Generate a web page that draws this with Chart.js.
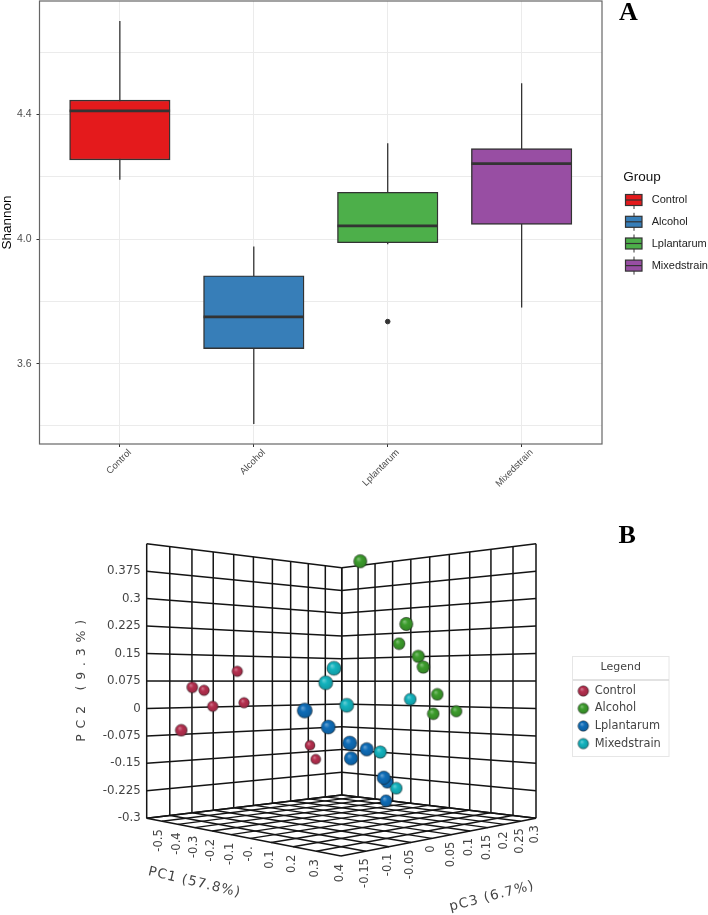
<!DOCTYPE html>
<html>
<head>
<meta charset="utf-8">
<title>Shannon diversity and PCoA</title>
<style>
html,body{margin:0;padding:0;background:#fff;width:708px;height:915px;overflow:hidden}
canvas{position:absolute;left:0}
#a{top:0}
#b{top:500px}
</style>
<script src="https://cdn.jsdelivr.net/npm/chart.js@4/dist/chart.umd.min.js"></script>
</head>
<body>
<canvas id="a" width="708" height="500"></canvas>
<canvas id="b" width="708" height="415"></canvas>
<script>
// ---------- Panel A data ----------
const categories = ['Control', 'Alcohol', 'Lplantarum', 'Mixedstrain'];
const whiskerLow = [4.19, 3.406, 3.983, 3.78];
const quartile1 = [4.254, 3.648, 3.988, 4.047];
const medians = [4.411, 3.75, 4.042, 4.242];
const quartile3 = [4.446, 3.882, 4.15, 4.29];
const whiskerHigh = [4.70, 3.976, 4.307, 4.50];
const outlierGroup = [2];
const outlierValue = [3.735];
const shannonTicks = [3.4, 3.6, 3.8, 4.0, 4.2, 4.4, 4.6];
const shannonLabelled = [3.6, 4.0, 4.4];

// ---------- Panel B data: view position, PC2, nearness to the viewer ----------
const controlView = [-.5346, -.7657, -.7056, -.6609, -.5001, -.8222, -.1611, -.1318];
const controlPC2 = [.1015, .0578, .0496, .0059, .0157, -.0597, -.1007, -.1389];
const controlNear = [.4, .45, .4, .4, .4, .55, .33, .33];
const alcoholView = [.0974, .3337, .2962, .3953, .4210, .4929, .5905, .4724];
const alcoholPC2 = [.4019, .2307, .1769, .1424, .1132, .0386, -.0078, -.0144];
const alcoholNear = [.7, .7, .55, .62, .62, .55, .5, .55];
const lplantarumView = [-.1883, -.0670, .0429, .0496, .1302, .2361, .2176, .2294];
const lplantarumPC2 = [-.0056, -.0507, -.0944, -.1362, -.1116, -.2017, -.1892, -.2520];
const lplantarumNear = [.9, .8, .8, .72, .72, .55, .72, .55];
const mixedstrainView = [-.0378, -.0804, .0275, .3542, .2001, .2823];
const mixedstrainPC2 = [.1097, .0703, .0086, .0250, -.1190, -.2181];
const mixedstrainNear = [.8, .8, .8, .55, .62, .55];
const pc2Ticks = [.375, .3, .225, .15, .075, 0, -.075, -.15, -.225, -.3];
const pc1Ticks = ['-0.5', '-0.4', '-0.3', '-0.2', '-0.1', '-0.', '0.1', '0.2', '0.3', '0.4'];
const pc3Ticks = ['-0.15', '-0.1', '-0.05', '0', '0.05', '0.1', '0.15', '0.2', '0.25', '0.3'];

// ---------- Styles ----------
const boxColors = ['#e41a1c', '#377eb8', '#4daf4a', '#984ea3'];
const ballColors = ['#b5304f', '#3c9c2c', '#0f6db8', '#13b3be'];
const SANS = '"Liberation Sans", Arial, sans-serif';
const DJ = '"DejaVu Sans", sans-serif';
const INK = '#333333';

// Box corners of the 3D frame in (view, PC2) units
const frame = {
  leftTop: [-1, .45], cornerTop: [.002, .3844], rightTop: [1, .45],
  leftBase: [-1, -.3], cornerBase: [.002, -.2364], rightBase: [1, -.3], front: [-.002, -.403]
};
const DIVS = 10;

function quadMap(p0, p1, p2, p3) {
  const dx1 = p1[0]-p2[0], dx2 = p3[0]-p2[0], sx = p0[0]-p1[0]+p2[0]-p3[0];
  const dy1 = p1[1]-p2[1], dy2 = p3[1]-p2[1], sy = p0[1]-p1[1]+p2[1]-p3[1];
  const den = dx1*dy2-dx2*dy1;
  const g = (sx*dy2-dx2*sy)/den, h = (dx1*sy-sx*dy1)/den;
  const a = p1[0]-p0[0]+g*p1[0], b = p3[0]-p0[0]+h*p3[0], c = p0[0];
  const d = p1[1]-p0[1]+g*p1[1], e = p3[1]-p0[1]+h*p3[1], f = p0[1];
  return (s, t) => {
    const w = g*s+h*t+1;
    return {x: (a*s+b*t+c)/w, y: (d*s+e*t+f)/w};
  };
}
const leftWall = quadMap(frame.leftTop, frame.cornerTop, frame.cornerBase, frame.leftBase);
const rightWall = quadMap(frame.cornerTop, frame.rightTop, frame.rightBase, frame.cornerBase);
const floorMap = quadMap(frame.leftBase, frame.cornerBase, frame.rightBase, frame.front);

function gridDatasets(map, width) {
  const out = [];
  for (let k = 0; k <= DIVS; k++) {
    const q = k / DIVS;
    for (const data of [[map(q, 0), map(q, 1)], [map(0, q), map(1, q)]]) {
      out.push({type: 'scatter', data, showLine: true, pointRadius: 0, borderColor: '#141414',
        borderWidth: width, clip: false, order: 10, fill: false});
    }
  }
  return out;
}

// ---------- Sphere sprites ----------
const sprites = {};
function shade(hex, f) {
  const n = parseInt(hex.slice(1), 16);
  const ch = [n >> 16 & 255, n >> 8 & 255, n & 255].map(v =>
    Math.round(f >= 0 ? v + (255 - v) * f : v * (1 + f)));
  return `rgb(${ch[0]},${ch[1]},${ch[2]})`;
}
function ball(color, r) {
  const key = color + r.toFixed(1);
  if (sprites[key]) return sprites[key];
  const half = Math.ceil(r) + 1;
  const c = document.createElement('canvas');
  c.width = c.height = half * 2;
  const g = c.getContext('2d');
  const grad = g.createRadialGradient(half - r*.3, half - r*.38, r*.05, half, half, r*1.02);
  grad.addColorStop(0, shade(color, .35));
  grad.addColorStop(.38, color);
  grad.addColorStop(.85, shade(color, -.12));
  grad.addColorStop(1, shade(color, -.45));
  g.fillStyle = grad;
  g.beginPath();
  g.arc(half, half, r, 0, Math.PI*2);
  g.fill();
  g.strokeStyle = 'rgba(30,30,30,.5)';
  g.lineWidth = .8;
  g.stroke();
  return sprites[key] = c;
}
function ballDataset(label, view, pc2, near, color) {
  return {
    type: 'scatter', label,
    data: view.map((x, i) => ({x, y: pc2[i]})),
    pointStyle: ctx => ball(color, 3.5 + near[ctx.dataIndex] * 4.5),
    pointRadius: ctx => 3.5 + near[ctx.dataIndex] * 4.5,
    clip: false, order: 1
  };
}

function rotatedText(ctx, text, x, y, angle, font, color, align, spacing) {
  ctx.save();
  ctx.translate(x, y);
  ctx.rotate(angle);
  ctx.font = font;
  ctx.fillStyle = color;
  ctx.textAlign = align;
  ctx.textBaseline = 'middle';
  if (spacing) ctx.letterSpacing = spacing + 'px';
  ctx.fillText(text, 0, 0);
  ctx.restore();
}

// ---------- Panel A ----------
const noPad = s => { s.paddingTop = s.paddingBottom = s.paddingLeft = s.paddingRight = 0; };
const lineSet = (pts, width, order) => ({
  type: 'scatter', data: pts, showLine: true, pointRadius: 0,
  borderColor: INK, borderWidth: width, order, clip: false
});
const panelA = {
  id: 'panelA',
  afterDatasetsDraw(chart) {
    const {ctx, chartArea: a} = chart;
    ctx.save();
    ctx.strokeStyle = '#666';
    ctx.lineWidth = 1.2;
    ctx.strokeRect(a.left, a.top, a.right - a.left, a.bottom - a.top);
    ctx.restore();
  },
  afterDraw(chart) {
    const ctx = chart.ctx;
    ctx.save();
    ctx.textBaseline = 'alphabetic';
    ctx.textAlign = 'left';
    ctx.fillStyle = '#000';
    ctx.font = 'bold 26px "Liberation Serif", serif';
    ctx.fillText('A', 619, 20);
    ctx.font = '13.5px ' + SANS;
    ctx.fillStyle = '#111';
    ctx.fillText('Group', 623.3, 181);
    const rows = [200, 221.8, 243.5, 265.6];
    categories.forEach((name, i) => {
      const y = rows[i];
      ctx.strokeStyle = INK;
      ctx.lineWidth = 1;
      ctx.beginPath(); ctx.moveTo(634, y - 9); ctx.lineTo(634, y + 9); ctx.stroke();
      ctx.fillStyle = boxColors[i];
      ctx.fillRect(625.5, y - 5.5, 16.5, 11);
      ctx.lineWidth = 1.2;
      ctx.strokeRect(625.5, y - 5.5, 16.5, 11);
      ctx.beginPath(); ctx.moveTo(625.5, y); ctx.lineTo(642, y); ctx.stroke();
      ctx.fillStyle = '#222';
      ctx.font = '11px ' + SANS;
      ctx.textBaseline = 'middle';
      ctx.fillText(name, 651.7, y);
      ctx.textBaseline = 'alphabetic';
    });
    ctx.restore();
  }
};
new Chart(document.getElementById('a'), {
  type: 'bar',
  data: {
    datasets: [
      ...categories.map((_, i) => lineSet([{x: i, y: whiskerLow[i]}, {x: i, y: whiskerHigh[i]}], 1.3, 4)),
      {type: 'bar', data: categories.map((_, i) => ({x: i, y: [quartile1[i], quartile3[i]]})),
        backgroundColor: boxColors, borderColor: INK, borderWidth: 1.4, borderSkipped: false,
        barThickness: 100.5, order: 3},
      ...categories.map((_, i) => lineSet([{x: i - .375, y: medians[i]}, {x: i + .375, y: medians[i]}], 2.8, 2)),
      {type: 'scatter', data: outlierGroup.map((x, i) => ({x, y: outlierValue[i]})),
        backgroundColor: INK, borderColor: INK, pointRadius: 2.3, order: 1}
    ]
  },
  options: {
    responsive: false, animation: false, devicePixelRatio: 1,
    layout: {autoPadding: false, padding: {top: 1, right: 106, left: 0, bottom: 0}},
    plugins: {legend: {display: false}, tooltip: {enabled: false}},
    scales: {
      x: {
        type: 'linear', min: -.6, max: 3.6, offset: false,
        afterBuildTicks: s => { s.ticks = categories.map((_, i) => ({value: i})); },
        afterFit: s => { s.height = 56; noPad(s); },
        grid: {offset: false, color: '#ebebeb', lineWidth: 1, tickLength: 3, tickColor: INK, drawOnChartArea: true},
        border: {display: false},
        ticks: {
          autoSkip: false, minRotation: 45, maxRotation: 45, padding: 0, labelOffset: 10,
          color: '#4d4d4d', font: {family: SANS, size: 9.5},
          callback: v => categories[v]
        }
      },
      y: {
        type: 'linear', min: 3.342, max: 4.764,
        afterBuildTicks: s => { s.ticks = shannonTicks.map(value => ({value})); },
        afterFit: s => { s.width = 39.5; noPad(s); },
        title: {display: true, text: 'Shannon', color: '#000', font: {family: SANS, size: 13.5, lineHeight: 1}, padding: {top: 1, bottom: 0}},
        grid: {
          color: '#ebebeb', lineWidth: 1, tickLength: 3,
          tickColor: c => shannonLabelled.includes(c.tick && c.tick.value) ? INK : 'rgba(0,0,0,0)'
        },
        border: {display: false},
        ticks: {
          padding: 5, color: '#4d4d4d', font: {family: SANS, size: 10.5},
          callback: v => shannonLabelled.includes(v) ? v.toFixed(1) : ''
        }
      }
    }
  },
  plugins: [panelA]
});

// ---------- Panel B ----------
const panelB = {
  id: 'panelB',
  afterDraw(chart) {
    const {ctx, scales: {x: sx, y: sy}} = chart;
    const TICK = '11.5px ' + DJ, TEXT = '#444';
    pc1Ticks.forEach((t, i) => {
      const p = floorMap(0, (i + 1) / DIVS);
      rotatedText(ctx, t, sx.getPixelForValue(p.x) - 1 + (i === 0 ? -2 : 0), sy.getPixelForValue(p.y) + 8, -Math.PI/2, TICK, TEXT, 'right');
    });
    pc3Ticks.forEach((t, i) => {
      const p = floorMap((i + 1) / DIVS, 1);
      rotatedText(ctx, t, sx.getPixelForValue(p.x) - 1, sy.getPixelForValue(p.y) + 7, -Math.PI/2, TICK, TEXT, 'right');
    });
    rotatedText(ctx, 'PC2 (9.3%)', 81.5, 178, -Math.PI/2, '12.5px ' + DJ, TEXT, 'center', 5.8);
    rotatedText(ctx, 'PC1 (57.8%)', 194.5, 382.5, .232, '13.5px ' + DJ, TEXT, 'center', 1);
    rotatedText(ctx, 'pC3 (6.7%)', 492, 396.5, -.253, '13.5px ' + DJ, TEXT, 'center', 1.2);

    ctx.save();
    ctx.fillStyle = '#000';
    ctx.textAlign = 'left';
    ctx.textBaseline = 'alphabetic';
    ctx.font = 'bold 26px "Liberation Serif", serif';
    ctx.fillText('B', 618.5, 43);
    // legend box
    ctx.strokeStyle = '#e6e6e6';
    ctx.lineWidth = 1;
    ctx.strokeRect(572.5, 156.5, 96.5, 100);
    ctx.strokeStyle = '#d8d8d8';
    ctx.lineWidth = 1.5;
    ctx.beginPath(); ctx.moveTo(573, 180); ctx.lineTo(669, 180); ctx.stroke();
    ctx.fillStyle = TEXT;
    ctx.textBaseline = 'middle';
    ctx.textAlign = 'center';
    ctx.font = '11px ' + DJ;
    ctx.fillText('Legend', 620.7, 167);
    ctx.textAlign = 'left';
    ctx.font = '11.4px ' + DJ;
    const rows = [191, 208.4, 226, 243.6];
    categories.forEach((name, i) => {
      const s = ball(ballColors[i], 5.3);
      ctx.drawImage(s, 583.3 - s.width/2, rows[i] - s.height/2);
      ctx.fillStyle = TEXT;
      ctx.fillText(name, 594.7, rows[i]);
    });
    ctx.restore();
  }
};
new Chart(document.getElementById('b'), {
  type: 'scatter',
  data: {
    datasets: [
      ...gridDatasets(leftWall, 1.5),
      ...gridDatasets(rightWall, 1.5),
      ...gridDatasets(floorMap, 1.4),
      ballDataset(categories[3], mixedstrainView, mixedstrainPC2, mixedstrainNear, ballColors[3]),
      ballDataset(categories[2], lplantarumView, lplantarumPC2, lplantarumNear, ballColors[2]),
      ballDataset(categories[1], alcoholView, alcoholPC2, alcoholNear, ballColors[1]),
      ballDataset(categories[0], controlView, controlPC2, controlNear, ballColors[0])
    ]
  },
  options: {
    responsive: false, animation: false, devicePixelRatio: 1,
    layout: {autoPadding: false, padding: {top: 43.7, right: 172, left: 0, bottom: 59}},
    plugins: {legend: {display: false}, tooltip: {enabled: false}},
    scales: {
      x: {type: 'linear', min: -1, max: 1, display: false},
      y: {
        type: 'linear', min: -.403, max: .45,
        afterBuildTicks: s => { s.ticks = pc2Ticks.map(value => ({value})); },
        afterFit: s => { s.width = 146.7; noPad(s); },
        grid: {display: false},
        border: {display: false},
        ticks: {padding: -2, color: '#444', font: {family: DJ, size: 11.8}, callback: v => String(v)}
      }
    }
  },
  plugins: [panelB]
});
</script>
</body>
</html>
